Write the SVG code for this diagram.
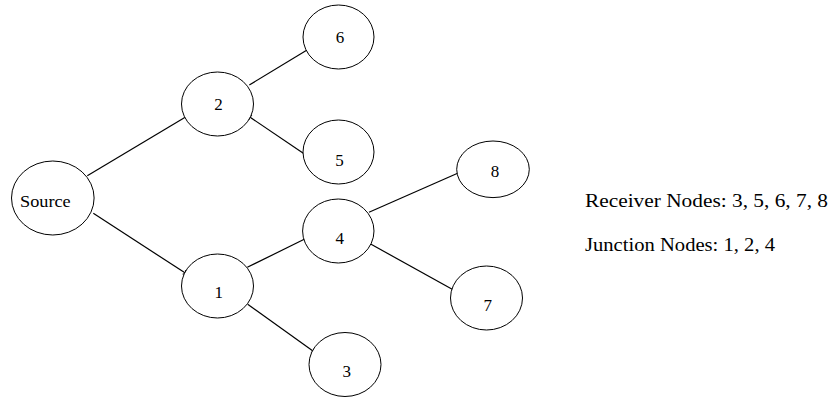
<svg xmlns="http://www.w3.org/2000/svg" width="831" height="397" viewBox="0 0 831 397">
<style>
  .node ellipse { fill: #ffffff; stroke: #000000; stroke-width: 1; }
  .node text, .legend text { font-family: "Liberation Serif", "Times New Roman", serif; font-size: 17px; fill: #000000; }
  .legend text { font-size: 19px; }
  .node text { text-anchor: middle; }
  .edges line { stroke: #000000; stroke-width: 1.2; marker-end: url(#tick); }
</style>
<defs>
  <marker id="tick" viewBox="-3 -3 6 6" markerWidth="6" markerHeight="6" markerUnits="userSpaceOnUse" orient="auto">
    <path d="M -2 -2.5 L 0 0 L -2 2.5" fill="none" stroke="#000000" stroke-width="1"/>
  </marker>
</defs>
<rect width="831" height="397" fill="#ffffff"/>
<g id="edges" class="edges">
  <line x1="87.3" y1="175.7" x2="187.7" y2="115.7"/>
  <line x1="249.3" y1="85" x2="308.3" y2="49.3"/>
  <line x1="303.3" y1="153.3" x2="249" y2="116.5"/>
  <line x1="93.3" y1="213.3" x2="185.7" y2="273.3"/>
  <line x1="247.3" y1="267.3" x2="308.3" y2="237.3"/>
  <line x1="369" y1="212.3" x2="463.3" y2="170.7"/>
  <line x1="369.3" y1="243.3" x2="456.7" y2="291.7"/>
  <line x1="247.7" y1="304.3" x2="314" y2="351.7"/>
</g>
<g id="node-source" class="node">
  <ellipse cx="52.8" cy="198" rx="41.3" ry="37"/>
  <text x="20" y="207" style="text-anchor:start" textLength="50.7" lengthAdjust="spacingAndGlyphs">Source</text>
</g>
<g id="node-2" class="node">
  <ellipse cx="217.5" cy="104" rx="36" ry="32"/>
  <text x="218.5" y="110">2</text>
</g>
<g id="node-6" class="node">
  <ellipse cx="338.5" cy="37" rx="35.5" ry="32"/>
  <text x="340" y="43">6</text>
</g>
<g id="node-5" class="node">
  <ellipse cx="338.5" cy="152" rx="35.5" ry="32"/>
  <text x="339.5" y="166">5</text>
</g>
<g id="node-4" class="node">
  <ellipse cx="338.3" cy="231" rx="35.7" ry="32"/>
  <text x="339.7" y="244">4</text>
</g>
<g id="node-8" class="node">
  <ellipse cx="493" cy="169.3" rx="36.3" ry="28.3"/>
  <text x="495" y="177.3">8</text>
</g>
<g id="node-1" class="node">
  <ellipse cx="217.5" cy="286" rx="36" ry="32"/>
  <text x="218.7" y="298">1</text>
</g>
<g id="node-7" class="node">
  <ellipse cx="486.5" cy="298" rx="36" ry="32"/>
  <text x="487.7" y="311">7</text>
</g>
<g id="node-3" class="node">
  <ellipse cx="345" cy="364.5" rx="36" ry="32"/>
  <text x="346.7" y="377">3</text>
</g>
<g id="legend" class="legend">
  <text x="585" y="207" textLength="243" lengthAdjust="spacingAndGlyphs">Receiver Nodes: 3, 5, 6, 7, 8</text>
  <text x="585" y="250.5" textLength="190" lengthAdjust="spacingAndGlyphs">Junction Nodes: 1, 2, 4</text>
</g>
</svg>
